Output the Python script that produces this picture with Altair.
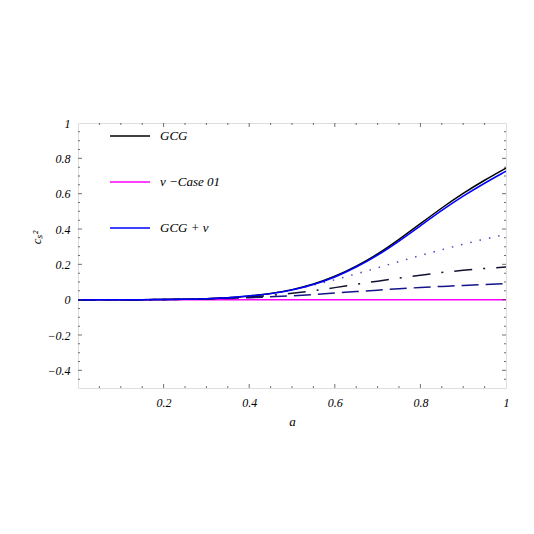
import altair as alt
import pandas as pd

# ---- data ----
A = [0.0, 0.05, 0.1, 0.15, 0.2, 0.25, 0.3, 0.35, 0.4, 0.45, 0.5,
     0.55, 0.6, 0.65, 0.7, 0.75, 0.8, 0.85, 0.9, 0.95, 1.0]
GCG = [0, 0, 0, 0, 0.0005, 0.002, 0.005, 0.011, 0.02, 0.034, 0.055,
       0.087, 0.13, 0.188, 0.256, 0.34, 0.43, 0.52, 0.603, 0.677, 0.745]
GCG_NU = [0, 0, 0, 0, 0.0005, 0.002, 0.005, 0.011, 0.02, 0.033, 0.053,
          0.084, 0.126, 0.183, 0.25, 0.331, 0.418, 0.506, 0.587, 0.66, 0.727]
NU_CASE = [0] * 21
DOTTED = [0, 0, 0, 0, 0.0005, 0.002, 0.005, 0.01, 0.02, 0.034, 0.055,
          0.082, 0.112, 0.146, 0.18, 0.216, 0.25, 0.283, 0.314, 0.343, 0.37]
DASHDOT = [0, 0, 0, 0, 0.0005, 0.002, 0.005, 0.009, 0.015, 0.024, 0.035,
           0.05, 0.068, 0.087, 0.105, 0.122, 0.139, 0.154, 0.167, 0.177, 0.185]
DASHED = [0, 0, 0, 0, 0.0005, 0.002, 0.004, 0.007, 0.011, 0.016, 0.022,
          0.029, 0.037, 0.046, 0.054, 0.062, 0.069, 0.075, 0.081, 0.086, 0.091]

LEGEND_NAMES = ["GCG", "\u03bd \u2212Case 01", "GCG + \u03bd"]
LEGEND_COLORS = ["#000000", "#ff00ff", "#0000ff"]

X_LABEL_TICKS = [0.2, 0.4, 0.6, 0.8, 1]
Y_LABEL_TICKS = [-0.4, -0.2, 0, 0.2, 0.4, 0.6, 0.8, 1]
X_MAJOR = [0.2, 0.4, 0.6, 0.8]
X_MINOR = [0.05, 0.1, 0.15, 0.25, 0.3, 0.35, 0.45, 0.5, 0.55, 0.65, 0.7,
           0.75, 0.85, 0.9, 0.95]
Y_MAJOR = [-0.4, -0.2, 0, 0.2, 0.4, 0.6, 0.8]
Y_MINOR = [-0.45, -0.35, -0.3, -0.25, -0.15, -0.1, -0.05, 0.05, 0.1, 0.15,
           0.25, 0.3, 0.35, 0.45, 0.5, 0.55, 0.65, 0.7, 0.75, 0.85, 0.9, 0.95]

FONT = "Liberation Serif"
XDOM = [0, 1]
YDOM = [-0.5, 1]

label_expr = ("datum.value == 0 ? '0' : datum.value == 1 ? '1' : "
              "replace(format(datum.value, '.1f'), '-', '\u2212')")

x_axis = alt.Axis(values=X_LABEL_TICKS, labelExpr=label_expr, ticks=False,
                  domain=False, grid=False, labelFont=FONT, labelFontStyle="italic",
                  labelFontSize=12, labelColor="#000", labelPadding=9,
                  title="a", titleFont=FONT, titleFontStyle="italic",
                  titleFontWeight="normal", titleFontSize=13, titleColor="#000",
                  titleX=214, titleY=37, titleBaseline="alphabetic",
                  labelFlush=False, labelOverlap=False)
y_axis = alt.Axis(values=Y_LABEL_TICKS, labelExpr=label_expr, ticks=False,
                  domain=False, grid=False, labelFont=FONT, labelFontStyle="italic",
                  labelFontSize=12, labelColor="#000", labelPadding=8,
                  title="c\u209b\u00b2", titleFont=FONT, titleFontStyle="italic",
                  titleFontWeight="normal", titleFontSize=13, titleColor="#000",
                  titleX=-38, titleY=114, titleAngle=270, titleBaseline="alphabetic",
                  labelFlush=False, labelOverlap=False)

xs = alt.Scale(domain=XDOM, nice=False, zero=False)
ys = alt.Scale(domain=YDOM, nice=False, zero=False)

INTERP = "basis"


def legend_line(name, values):
    df = pd.DataFrame({"a": A, "y": values, "series": name})
    return alt.Chart(df).mark_line(interpolate=INTERP, strokeWidth=1.5, clip=True).encode(
        x=alt.X("a:Q", scale=xs, axis=x_axis),
        y=alt.Y("y:Q", scale=ys, axis=y_axis),
        color=alt.Color("series:N",
                        scale=alt.Scale(domain=LEGEND_NAMES, range=LEGEND_COLORS),
                        legend=alt.Legend(orient="none", legendX=31, legendY=-8,
                                          title=None, symbolType="stroke",
                                          symbolSize=1600, symbolStrokeWidth=1.5,
                                          labelFont=FONT, labelFontStyle="italic",
                                          labelFontSize=13, labelColor="#000",
                                          labelOffset=9, rowPadding=18, padding=0)),
    )


def styled_line(values, color, dash, width=1.5):
    df = pd.DataFrame({"a": A, "y": values})
    return alt.Chart(df).mark_line(interpolate=INTERP, strokeWidth=width, color=color,
                                   strokeDash=dash, clip=True).encode(
        x=alt.X("a:Q", scale=xs, axis=x_axis),
        y=alt.Y("y:Q", scale=ys, axis=y_axis),
    )


def xticks(vals, y_edge, size):
    df = pd.DataFrame({"v": vals})
    return alt.Chart(df).mark_tick(orient="vertical", size=size, thickness=1,
                                   color="#333", clip=True).encode(
        x=alt.X("v:Q", scale=xs, axis=x_axis),
        y=alt.YDatum(y_edge, scale=ys, axis=y_axis),
    )


def yticks(vals, x_edge, size):
    df = pd.DataFrame({"v": vals})
    return alt.Chart(df).mark_tick(orient="horizontal", size=size, thickness=1,
                                   color="#333", clip=True).encode(
        y=alt.Y("v:Q", scale=ys, axis=y_axis),
        x=alt.XDatum(x_edge, scale=xs, axis=x_axis),
    )


layers = [
    legend_line(LEGEND_NAMES[1], NU_CASE),
    styled_line(DASHED, "#14148a", [17, 7]),
    styled_line(DASHDOT, "#111133", [18, 11, 2, 11]),
    styled_line(DOTTED, "#4a4ac8", [1.5, 8]),
    legend_line(LEGEND_NAMES[0], GCG),
    legend_line(LEGEND_NAMES[2], GCG_NU),
    xticks(X_MAJOR, -0.5, 8), xticks(X_MINOR, -0.5, 4),
    xticks(X_MAJOR, 1, 8), xticks(X_MINOR, 1, 4),
    yticks(Y_MAJOR, 0, 8), yticks(Y_MINOR, 0, 4),
    yticks(Y_MAJOR, 1, 8), yticks(Y_MINOR, 1, 4),
]

chart = alt.layer(*layers).properties(
    width=428, height=265,
    autosize=alt.AutoSizeParams(type="none"),
    padding={"left": 70, "top": 115, "right": 20, "bottom": 130},
).configure_view(stroke="#000", strokeWidth=1).configure(background="white")

chart.save("out.html", embed_options={"renderer": "svg", "actions": False})
